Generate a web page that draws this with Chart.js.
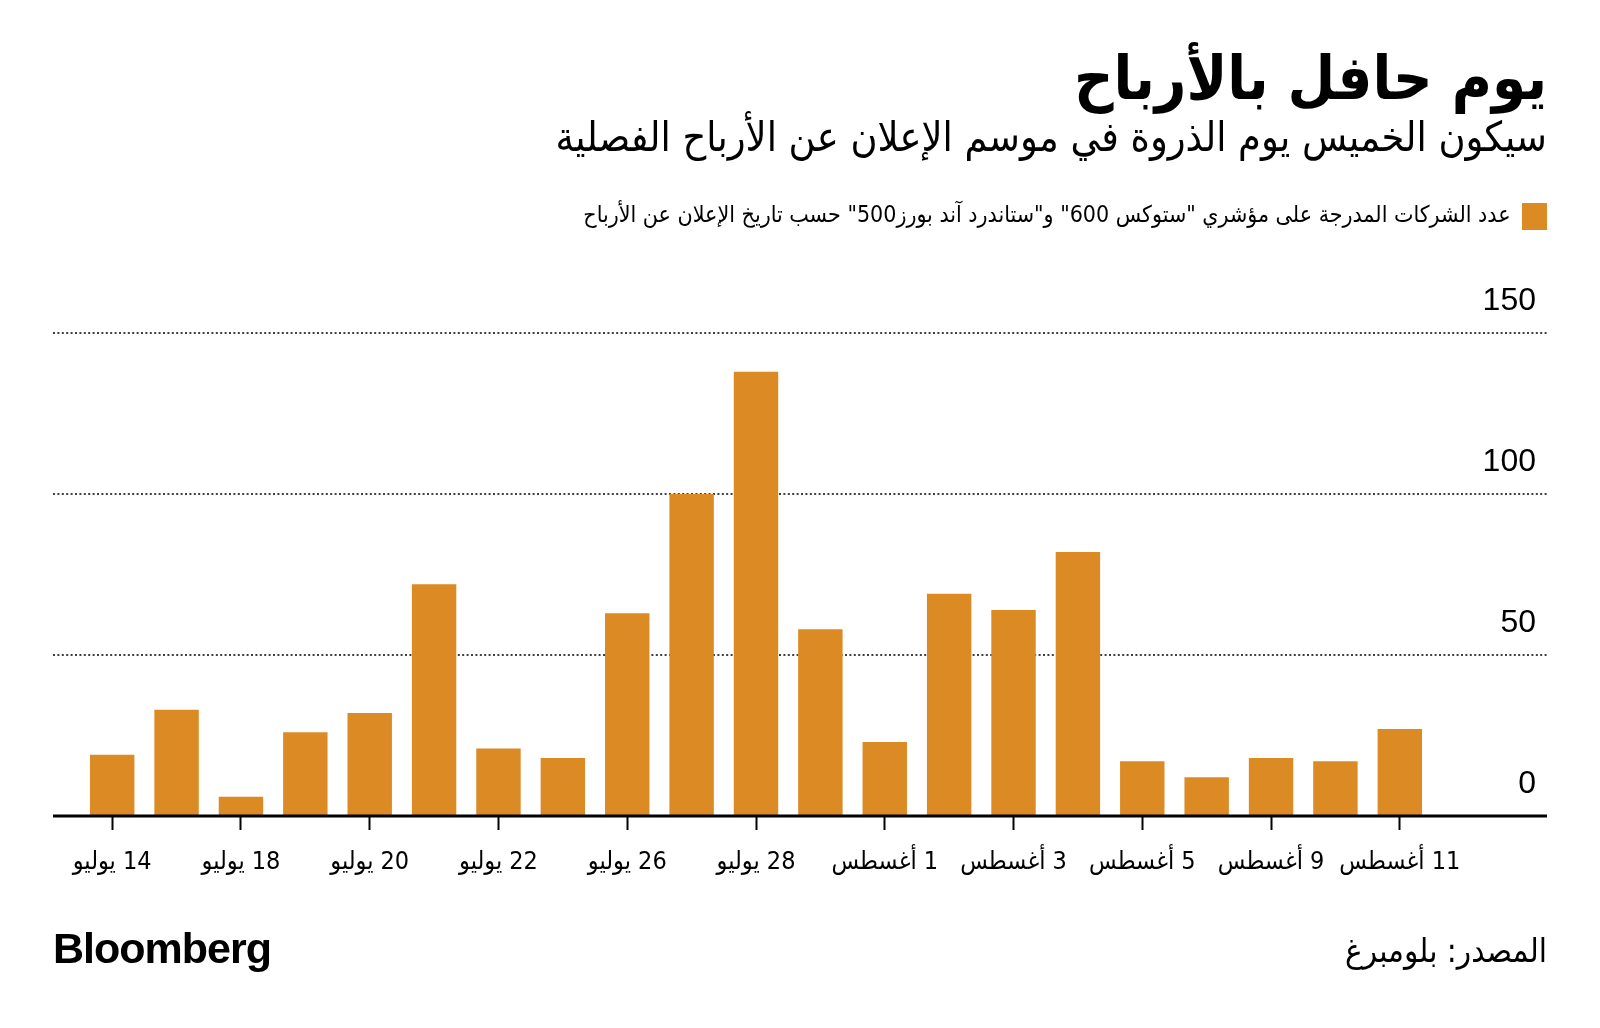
<!DOCTYPE html>
<html lang="ar">
<head>
<meta charset="utf-8">
<script src="https://cdn.jsdelivr.net/npm/chart.js@4.4.0/dist/chart.umd.min.js"></script>
<style>
  body { margin: 0; background: #fff; }
  #wrap { position: relative; width: 1600px; height: 1028px; overflow: hidden; }
  #chart { position: absolute; left: 0; top: 0; direction: rtl; }
  .txt {
    position: absolute; right: 53px; direction: rtl; white-space: nowrap; color: #000;
    font-family: "DejaVu Sans Condensed", "DejaVu Sans", sans-serif; line-height: 1;
  }
  #title { top: 47px; font-size: 61px; font-weight: bold; }
  #subtitle { top: 117px; font-size: 41px; }
  #source { top: 934px; font-size: 33px; }
  #logo {
    position: absolute; left: 53px; top: 927px; color: #000;
    font: bold 43px "Liberation Sans", Arial, sans-serif; letter-spacing: -1px; line-height: 1;
  }
</style>
</head>
<body>
<div id="wrap">
  <canvas id="chart" width="1600" height="1028"></canvas>
  <div class="txt" id="title">يوم حافل بالأرباح</div>
  <div class="txt" id="subtitle">سيكون الخميس يوم الذروة في موسم الإعلان عن الأرباح الفصلية</div>
  <div class="txt" id="source">المصدر: بلومبرغ</div>
  <div id="logo">Bloomberg</div>
</div>
<script>
// trading days, only every other one gets a label on the axis
const dates = [
  '14 يوليو', '15 يوليو', '18 يوليو', '19 يوليو', '20 يوليو', '21 يوليو', '22 يوليو',
  '25 يوليو', '26 يوليو', '27 يوليو', '28 يوليو', '29 يوليو', '1 أغسطس', '2 أغسطس',
  '3 أغسطس', '4 أغسطس', '5 أغسطس', '8 أغسطس', '9 أغسطس', '10 أغسطس', '11 أغسطس'
];
const companies = [19, 33, 6, 26, 32, 72, 21, 18, 63, 100, 138, 58, 23, 69, 64, 82, 17, 12, 18, 17, 27];
const yTicks = [0, 50, 100, 150];
const seriesLabel = 'عدد الشركات المدرجة على مؤشري "ستوكس 600" و"ستاندرد آند بورز500" حسب تاريخ الإعلان عن الأرباح';

const arabicFont = '"DejaVu Sans Condensed", "DejaVu Sans", sans-serif';
const lineLeft = 53, lineRight = 1547;

// leave room between legend and plot
const legendGap = {
  id: 'legendGap',
  beforeInit(chart) {
    if (!chart.legend) return;
    const fit = chart.legend.fit;
    chart.legend.fit = function () {
      fit.call(this);
      this.height += 93;
    };
  }
};

// dotted grid, heavy baseline and the y labels sitting above each line
const gridAndAxis = {
  id: 'gridAndAxis',
  beforeDatasetsDraw(chart) {
    const {ctx, scales: {y}} = chart;
    ctx.save();
    ctx.strokeStyle = '#000';
    ctx.lineWidth = 1.6;
    ctx.setLineDash([2, 2.4]);
    yTicks.forEach(v => {
      if (v === 0) return;
      const py = Math.round(y.getPixelForValue(v));
      ctx.beginPath();
      ctx.moveTo(lineLeft, py);
      ctx.lineTo(lineRight, py);
      ctx.stroke();
    });
    ctx.restore();
  },
  afterDatasetsDraw(chart) {
    const {ctx, scales: {y}} = chart;
    ctx.save();
    const y0 = y.getPixelForValue(0);
    ctx.fillStyle = '#000';
    ctx.fillRect(lineLeft, y0 - 1.5, lineRight - lineLeft, 3);
    ctx.font = '32px "Liberation Sans", Arial, sans-serif';
    ctx.textAlign = 'right';
    ctx.textBaseline = 'middle';
    ctx.direction = 'ltr';
    yTicks.forEach(v => {
      ctx.fillText(String(v), 1536, y.getPixelForValue(v) - 32);
    });
    ctx.restore();
  }
};

new Chart(document.getElementById('chart'), {
  type: 'bar',
  data: {
    labels: dates,
    datasets: [{
      label: seriesLabel,
      data: companies,
      backgroundColor: '#DB8A24',
      borderWidth: 0,
      barPercentage: 0.69,
      categoryPercentage: 1
    }]
  },
  options: {
    responsive: false,
    animation: false,
    layout: { padding: { left: 80, right: 43, top: 193, bottom: 152 } },
    plugins: {
      tooltip: { enabled: false },
      legend: {
        position: 'top',
        align: 'start',
        rtl: true,
        textDirection: 'rtl',
        labels: {
          boxWidth: 25,
          boxHeight: 27,
          padding: 10,
          color: '#000',
          font: { size: 23, family: arabicFont }
        }
      }
    },
    scales: {
      x: {
        offset: true,
        grid: {
          display: true,
          drawOnChartArea: false,
          drawTicks: true,
          offset: false,
          tickLength: 14,
          tickWidth: 2,
          tickColor: c => (c.index % 2 === 0 ? '#000' : 'rgba(0,0,0,0)')
        },
        border: { display: false },
        ticks: {
          autoSkip: false,
          maxRotation: 0,
          padding: 17,
          color: '#000',
          font: { size: 25, family: arabicFont },
          callback: (v, i) => (i % 2 === 0 ? dates[i] : '')
        },
        afterFit: s => { s.height = 60; }
      },
      y: {
        position: 'right',
        min: 0,
        max: 150,
        ticks: { display: false, stepSize: 50 },
        grid: { display: false },
        border: { display: false },
        afterFit: s => { s.width = 125; }
      }
    }
  },
  plugins: [legendGap, gridAndAxis]
});
</script>
</body>
</html>
